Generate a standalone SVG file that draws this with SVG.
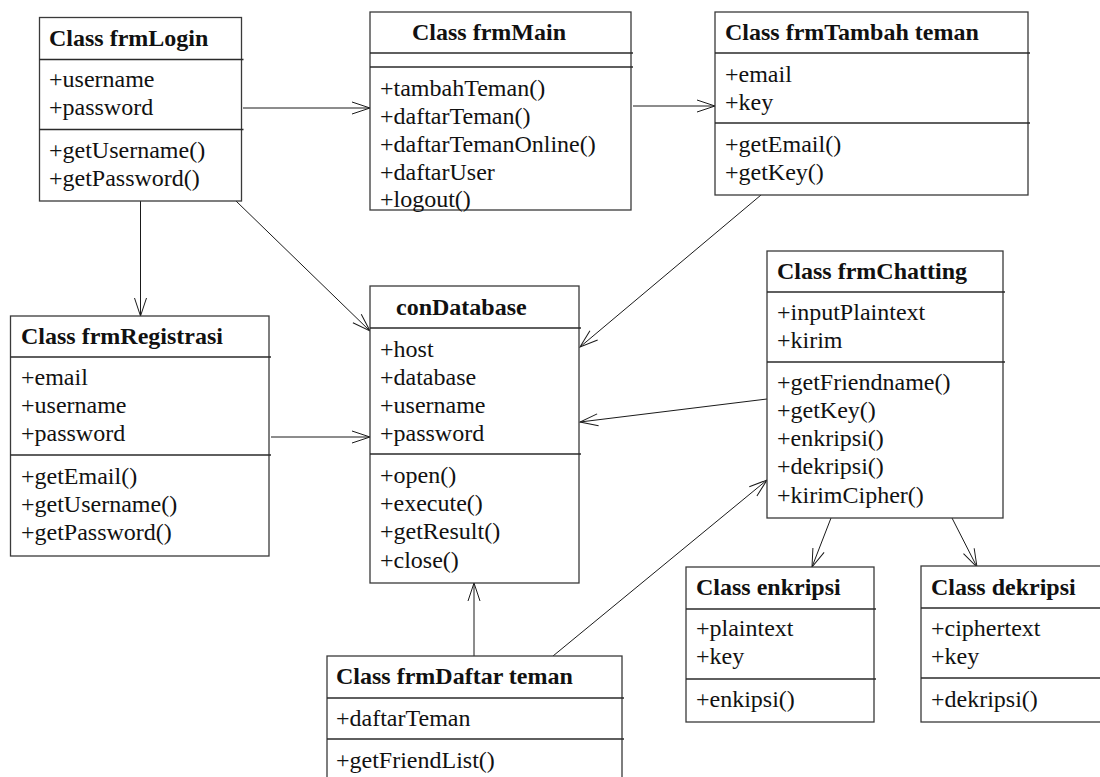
<svg xmlns="http://www.w3.org/2000/svg" width="1100" height="777" viewBox="0 0 1100 777">
  <style>
    .box { fill: #ffffff; stroke: #3a3a3a; stroke-width: 1.3; }
    .sep { stroke: #2a2a2a; stroke-width: 1.3; }
    .t { font-family: "Liberation Serif", "Times New Roman", serif; font-size: 24px; fill: #111; }
    .h { font-weight: bold; }
    .link { stroke: #1a1a1a; stroke-width: 1; fill: none; marker-end: url(#open); }
  </style>
  <defs>
    <marker id="open" markerUnits="userSpaceOnUse" markerWidth="24" markerHeight="16" viewBox="-20 -8 22 16" refX="0" refY="0" orient="auto" overflow="visible">
      <path d="M-18,-6 L0,0 L-18,6" fill="none" stroke="#1a1a1a" stroke-width="1"/>
    </marker>
  </defs>

  <rect x="0" y="0" width="1100" height="777" fill="#ffffff"/>

  <!-- associations -->
  <g id="connectors">
    <path class="link" d="M243,108 L370,108"/>
    <path class="link" d="M633,106 L715,106"/>
    <path class="link" d="M140.5,201 L140.5,316"/>
    <path class="link" d="M236,201 L370,331"/>
    <path class="link" d="M271,437 L370,437"/>
    <path class="link" d="M761,195 L580,347"/>
    <path class="link" d="M767,399 L580,422"/>
    <path class="link" d="M474,656 L474,583"/>
    <path class="link" d="M553,656 L767,480"/>
    <path class="link" d="M831,518 L812,567"/>
    <path class="link" d="M952,518 L977,567"/>
  </g>

  <g id="frmLogin">
    <rect class="box" x="39.5" y="17.5" width="202" height="183.5"/>
    <line class="sep" x1="39.5" y1="59.5" x2="243.5" y2="59.5"/>
    <line class="sep" x1="39.5" y1="129.5" x2="243.5" y2="129.5"/>
    <text class="t h" x="49" y="46">Class frmLogin</text>
    <text class="t" x="49" y="87">+username</text>
    <text class="t" x="49" y="115">+password</text>
    <text class="t" x="49" y="158">+getUsername()</text>
    <text class="t" x="49" y="186">+getPassword()</text>
  </g>

  <g id="frmMain">
    <rect class="box" x="370" y="12" width="261" height="198"/>
    <line class="sep" x1="370" y1="53" x2="633" y2="53"/>
    <line class="sep" x1="370" y1="67" x2="633" y2="67"/>
    <text class="t h" x="412" y="40">Class frmMain</text>
    <text class="t" x="380" y="96">+tambahTeman()</text>
    <text class="t" x="380" y="124">+daftarTeman()</text>
    <text class="t" x="380" y="152">+daftarTemanOnline()</text>
    <text class="t" x="380" y="180">+daftarUser</text>
    <text class="t" x="380" y="207">+logout()</text>
  </g>

  <g id="frmTambahTeman">
    <rect class="box" x="715" y="12" width="313" height="183"/>
    <line class="sep" x1="715" y1="53" x2="1030" y2="53"/>
    <line class="sep" x1="715" y1="123" x2="1030" y2="123"/>
    <text class="t h" x="725" y="40">Class frmTambah teman</text>
    <text class="t" x="725" y="82">+email</text>
    <text class="t" x="725" y="110">+key</text>
    <text class="t" x="725" y="152">+getEmail()</text>
    <text class="t" x="725" y="180">+getKey()</text>
  </g>

  <g id="frmRegistrasi">
    <rect class="box" x="10.5" y="316" width="258.5" height="240"/>
    <line class="sep" x1="10.5" y1="357" x2="271" y2="357"/>
    <line class="sep" x1="10.5" y1="455" x2="271" y2="455"/>
    <text class="t h" x="21" y="344">Class frmRegistrasi</text>
    <text class="t" x="21" y="385">+email</text>
    <text class="t" x="21" y="413">+username</text>
    <text class="t" x="21" y="441">+password</text>
    <text class="t" x="21" y="484">+getEmail()</text>
    <text class="t" x="21" y="512">+getUsername()</text>
    <text class="t" x="21" y="540">+getPassword()</text>
  </g>

  <g id="conDatabase">
    <rect class="box" x="370" y="286" width="209" height="297"/>
    <line class="sep" x1="370" y1="328" x2="581" y2="328"/>
    <line class="sep" x1="370" y1="454" x2="581" y2="454"/>
    <text class="t h" x="396" y="315">conDatabase</text>
    <text class="t" x="380" y="357">+host</text>
    <text class="t" x="380" y="385">+database</text>
    <text class="t" x="380" y="413">+username</text>
    <text class="t" x="380" y="441">+password</text>
    <text class="t" x="380" y="483">+open()</text>
    <text class="t" x="380" y="511">+execute()</text>
    <text class="t" x="380" y="539">+getResult()</text>
    <text class="t" x="380" y="568">+close()</text>
  </g>

  <g id="frmChatting">
    <rect class="box" x="767" y="251" width="236" height="267"/>
    <line class="sep" x1="767" y1="292" x2="1005" y2="292"/>
    <line class="sep" x1="767" y1="362" x2="1005" y2="362"/>
    <text class="t h" x="777" y="279">Class frmChatting</text>
    <text class="t" x="777" y="320">+inputPlaintext</text>
    <text class="t" x="777" y="348">+kirim</text>
    <text class="t" x="777" y="390">+getFriendname()</text>
    <text class="t" x="777" y="418">+getKey()</text>
    <text class="t" x="777" y="446">+enkripsi()</text>
    <text class="t" x="777" y="474">+dekripsi()</text>
    <text class="t" x="777" y="503">+kirimCipher()</text>
  </g>

  <g id="enkripsi">
    <rect class="box" x="686" y="567" width="188" height="155"/>
    <line class="sep" x1="686" y1="609" x2="876" y2="609"/>
    <line class="sep" x1="686" y1="679" x2="876" y2="679"/>
    <text class="t h" x="696" y="595">Class enkripsi</text>
    <text class="t" x="696" y="636">+plaintext</text>
    <text class="t" x="696" y="664">+key</text>
    <text class="t" x="696" y="707">+enkipsi()</text>
  </g>

  <g id="dekripsi">
    <rect class="box" x="921" y="566" width="185" height="156"/>
    <line class="sep" x1="921" y1="608" x2="1106" y2="608"/>
    <line class="sep" x1="921" y1="678" x2="1106" y2="678"/>
    <text class="t h" x="931" y="595">Class dekripsi</text>
    <text class="t" x="931" y="636">+ciphertext</text>
    <text class="t" x="931" y="664">+key</text>
    <text class="t" x="931" y="707">+dekripsi()</text>
  </g>

  <g id="frmDaftarTeman">
    <rect class="box" x="327" y="656" width="295" height="130"/>
    <line class="sep" x1="327" y1="698" x2="624" y2="698"/>
    <line class="sep" x1="327" y1="739" x2="624" y2="739"/>
    <text class="t h" x="336" y="684">Class frmDaftar teman</text>
    <text class="t" x="336" y="726">+daftarTeman</text>
    <text class="t" x="336" y="768">+getFriendList()</text>
  </g>
</svg>
